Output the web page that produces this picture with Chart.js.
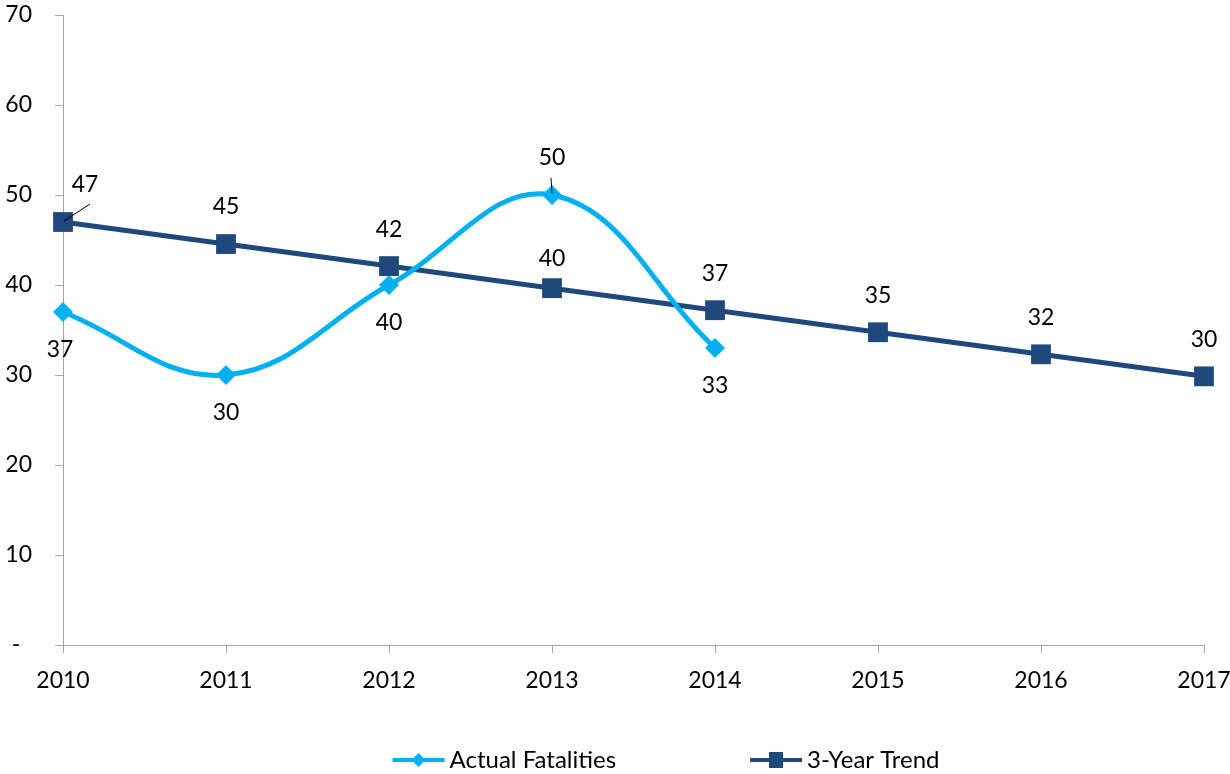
<!DOCTYPE html>
<html>
<head>
<meta charset="utf-8">
<script src="https://cdn.jsdelivr.net/npm/chart.js@4"></script>
<style>
  html, body { margin: 0; padding: 0; background: #fff; }
  #wrap { width: 1230px; height: 774px; }
</style>
</head>
<body>
<div id="wrap"><canvas id="graph"></canvas></div>
<script>
const years = ['2010', '2011', '2012', '2013', '2014', '2015', '2016', '2017'];
const actualFatalities = [37, 30, 40, 50, 33, null, null, null];
const threeYearTrend = [47.0, 44.55, 42.1, 39.65, 37.2, 34.75, 32.3, 29.85];
const yTicks = [0, 10, 20, 30, 40, 50, 60, 70];

const CYAN = '#00B0F0';
const NAVY = '#1F497D';
const AXIS = '#a6a6a6';
const FONT = 'Lato';

// value labels next to the points, with the two leader lines
const pointLabels = {
  id: 'pointLabels',
  afterDatasetsDraw(chart) {
    const ctx = chart.ctx;
    ctx.save();
    ctx.font = '23px ' + FONT;
    ctx.fillStyle = '#000';
    ctx.textAlign = 'center';
    ctx.textBaseline = 'middle';
    ctx.strokeStyle = '#000';
    ctx.lineWidth = 1;
    chart.data.datasets.forEach((ds, i) => {
      const meta = chart.getDatasetMeta(i);
      const vals = ds.data.filter(v => v != null);
      const max = Math.max(...vals);
      meta.data.forEach((pt, j) => {
        const v = ds.data[j];
        if (v == null) return;
        let dx = 0, dy;
        if (i === 0) {
          dy = v === max ? -37 : 38;
          if (j === 0) dx = -3;
          if (v === max) {
            ctx.beginPath();
            ctx.moveTo(pt.x - 1, pt.y - 17);
            ctx.lineTo(pt.x, pt.y - 2);
            ctx.stroke();
          }
        } else {
          dy = -37;
          if (j === 0) {
            dx = 22;
            ctx.beginPath();
            ctx.moveTo(pt.x + 27, pt.y - 18);
            ctx.lineTo(pt.x + 1, pt.y - 1);
            ctx.stroke();
          }
          if (j === 3) dy = -30;
        }
        ctx.fillText(String(Math.round(v)), pt.x + dx, pt.y + dy);
      });
    });
    ctx.restore();
  }
};

// Excel-style legend: line with marker, then the name
const bottomLegend = {
  id: 'bottomLegend',
  afterDraw(chart) {
    const ctx = chart.ctx;
    ctx.save();
    ctx.font = '24px ' + FONT;
    ctx.textBaseline = 'middle';
    ctx.textAlign = 'left';
    const y = 760;
    const lineLen = 52, gapText = 5, gapItems = 134;
    const items = chart.data.datasets.map(ds => ({
      label: ds.label, color: ds.borderColor, style: ds.pointStyle,
      w: lineLen + gapText + ctx.measureText(ds.label).width
    }));
    const total = items.reduce((s, it) => s + it.w, 0) + gapItems * (items.length - 1);
    let x = 666 - total / 2;
    items.forEach(it => {
      ctx.strokeStyle = it.color;
      ctx.lineWidth = 4;
      ctx.beginPath();
      ctx.moveTo(x, y);
      ctx.lineTo(x + lineLen, y);
      ctx.stroke();
      ctx.fillStyle = it.color;
      const cx = x + lineLen / 2;
      ctx.beginPath();
      if (it.style === 'rectRot') {
        ctx.moveTo(cx, y - 7); ctx.lineTo(cx + 7, y); ctx.lineTo(cx, y + 7); ctx.lineTo(cx - 7, y);
      } else {
        ctx.rect(cx - 7, y - 8, 14, 16);
      }
      ctx.closePath();
      ctx.fill();
      ctx.fillStyle = '#000';
      ctx.fillText(it.label, x + lineLen + gapText, y);
      x += it.w + gapItems;
    });
    ctx.restore();
  }
};

const data = {
  labels: years,
  datasets: [
    {
      label: 'Actual Fatalities',
      data: actualFatalities,
      borderColor: CYAN,
      backgroundColor: CYAN,
      borderWidth: 5,
      tension: 0.4,
      pointStyle: 'rectRot',
      pointRadius: 10,
      pointBorderWidth: 0,
      spanGaps: false
    },
    {
      label: '3-Year Trend',
      data: threeYearTrend,
      borderColor: NAVY,
      backgroundColor: NAVY,
      borderWidth: 5,
      tension: 0,
      pointStyle: 'rect',
      pointRadius: 14,
      pointBorderWidth: 0
    }
  ]
};

const config = {
  type: 'line',
  data: data,
  options: {
    responsive: true,
    maintainAspectRatio: false,
    animation: false,
    layout: { padding: { top: 15, right: 26, left: 0, bottom: 0 } },
    plugins: { legend: { display: false }, tooltip: { enabled: false } },
    scales: {
      x: {
        offset: false,
        grid: { display: true, drawOnChartArea: false, color: AXIS, tickLength: 8, offset: false },
        border: { color: AXIS, width: 1 },
        ticks: { color: '#000', font: { family: FONT, size: 23 }, padding: 14, maxRotation: 0 },
        afterFit(scale) {
          scale.height = 129;
          scale.paddingLeft = 0;
          scale.paddingRight = 0;
        }
      },
      y: {
        min: 0,
        max: 70,
        afterBuildTicks(scale) { scale.ticks = yTicks.map(v => ({ value: v })); },
        grid: { display: true, drawOnChartArea: false, color: AXIS, tickLength: 8 },
        border: { color: AXIS, width: 1 },
        ticks: {
          color: '#000', font: { family: FONT, size: 23 }, padding: 23,
          callback: v => v === 0 ? '-  ' : v
        },
        afterFit(scale) {
          scale.width = 63;
          scale.paddingTop = 0;
          scale.paddingBottom = 0;
        }
      }
    }
  },
  plugins: [pointLabels, bottomLegend]
};

const myChart = new Chart(document.getElementById('graph'), config);
</script>
</body>
</html>
